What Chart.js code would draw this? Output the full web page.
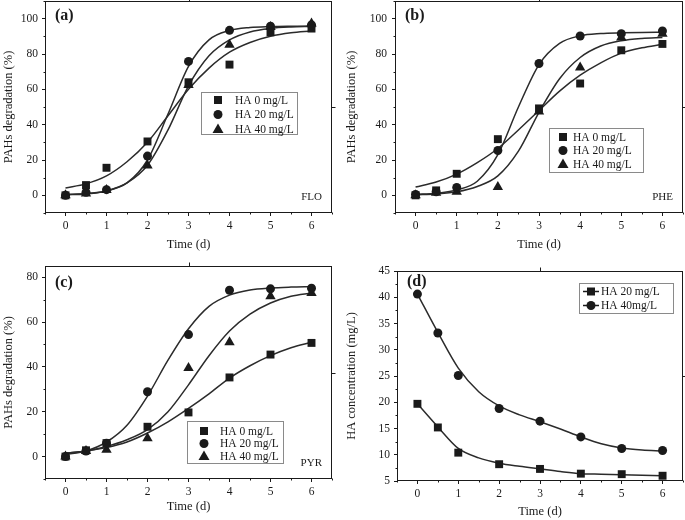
<!DOCTYPE html>
<html>
<head>
<meta charset="utf-8">
<script src="https://cdn.jsdelivr.net/npm/chart.js"></script>
<style>
  body { margin: 0; background: #fff; width: 685px; height: 520px; position: relative; overflow: hidden; }
  canvas { position: absolute; }
</style>
</head>
<body>
<canvas id="chartA" width="342" height="258" style="left:0;top:0"></canvas>
<canvas id="chartB" width="342" height="258" style="left:343px;top:0"></canvas>
<canvas id="chartC" width="342" height="262" style="left:0;top:258px"></canvas>
<canvas id="chartD" width="342" height="262" style="left:343px;top:258px"></canvas>
<script>
// sampling days
const timeDays = [0, 0.5, 1, 2, 3, 4, 5, 6];
const fitTime = [0, 0.5, 1, 1.5, 2, 2.5, 3, 3.5, 4, 4.5, 5, 5.5, 6];

// (a) FLO
const floHA0 = [0, 5.8, 15.6, 30.5, 64.0, 74.0, 92.3, 94.4];
const floHA20 = [0, 1.7, 3.2, 22.2, 75.8, 93.4, 95.7, 96.4];
const floHA40 = [0, 1.0, 3.0, 16.9, 62.4, 85.3, 95.3, 97.2];
const floFit0 = [4.2, 6.5, 11, 19, 30, 45, 60, 72, 81, 86.5, 90, 92, 93];
const floFit20 = [0.5, 1, 2.5, 7, 20, 46, 73, 88, 93.3, 95, 95.5, 95.7, 95.8];
const floFit40 = [0.3, 0.8, 2.5, 7, 17, 37, 62, 79, 88, 92.5, 94.5, 95.3, 95.6];

// (b) PHE
const pheHA0 = [0, 2.8, 12.2, 31.8, 49.2, 63.3, 82.1, 85.7];
const pheHA20 = [0.5, 2.0, 4.5, 25.4, 74.6, 90.2, 91.5, 93.0];
const pheHA40 = [0, 1.5, 2.0, 4.7, 47.4, 72.4, 89.3, 91.5];
const pheFit0 = [4.7, 7.5, 12, 18.5, 26.5, 37, 48, 59, 68, 75, 80.5, 83.5, 85.5];
const pheFit20 = [0.5, 1.2, 3, 8, 23, 50, 74, 86, 90.3, 91.6, 92, 92.2, 92.3];
const pheFit40 = [0.3, 0.8, 2, 5, 11, 25, 47, 66, 78, 84.5, 87.5, 88.8, 89.3];

// (c) PYR
const pyrHA0 = [0, 2.8, 6.0, 13.3, 19.7, 35.3, 45.5, 50.7];
const pyrHA20 = [0, 2.5, 6.0, 28.9, 54.4, 74.2, 74.8, 75.1];
const pyrHA40 = [0, 2.5, 3.0, 8.2, 39.5, 51.0, 71.5, 73.0];
const pyrFit0 = [1.5, 2.5, 4, 6.5, 10.5, 15.5, 21.5, 28, 35, 40.5, 45, 48.5, 51];
const pyrFit20 = [1, 2.5, 6.5, 14, 27, 43, 57, 67, 72, 74.3, 75.2, 75.6, 75.8];
const pyrFit40 = [1.5, 2.5, 4.5, 7.5, 12, 20, 32, 45, 56, 63.5, 68.5, 71.5, 73];

// (d) HA concentration
const ha20Conc = [19.7, 15.2, 10.4, 8.2, 7.3, 6.4, 6.3, 6.0];
const ha40Conc = [40.6, 33.2, 25.1, 18.8, 16.4, 13.4, 11.2, 10.8];
const ha20Fit = [19.7, 15.3, 11.2, 9.4, 8.4, 7.8, 7.3, 6.8, 6.4, 6.3, 6.2, 6.1, 6.0];
const ha40Fit = [40.6, 33.3, 26.5, 22, 19.3, 17.6, 16.3, 14.9, 13.4, 12.1, 11.3, 10.9, 10.7];

// ticks
const xTicks = [0, 1, 2, 3, 4, 5, 6];
const xMinor = [-0.5, 0.5, 1.5, 2.5, 3.5, 4.5, 5.5, 6.5];
const degTicks = [0, 20, 40, 60, 80, 100];
const degMinor = [-10, 10, 30, 50, 70, 90, 110];
const pyrTicks = [0, 20, 40, 60, 80];
const pyrMinor = [-10, 10, 30, 50, 70];
const concTicks = [5, 10, 15, 20, 25, 30, 35, 40, 45];
const concMinor = [7.5, 12.5, 17.5, 22.5, 27.5, 32.5, 37.5, 42.5];

const haLabels = ['HA 0 mg/L', 'HA 20 mg/L', 'HA 40 mg/L'];
const concLabels = ['HA 20 mg/L', 'HA 40mg/L'];

const INK = '#1a1a1a';
const SERIF = "'Liberation Serif', 'DejaVu Serif', serif";

function pts(xs, ys) { return xs.map((x, i) => ({ x: x, y: ys[i] })); }

function drawMarker(ctx, style, x, y) {
  ctx.beginPath();
  if (style === 'rect') {
    ctx.rect(x - 4, y - 4, 8, 8);
  } else if (style === 'circle') {
    ctx.arc(x, y, 4.5, 0, Math.PI * 2);
  } else {
    ctx.moveTo(x, y - 5.5);
    ctx.lineTo(x + 5.5, y + 4);
    ctx.lineTo(x - 5.5, y + 4);
    ctx.closePath();
  }
  ctx.fill();
}

const panelDecor = {
  id: 'panelDecor',
  afterDatasetsDraw(chart, args, o) {
    const { ctx, chartArea: a, scales } = chart;
    ctx.save();
    ctx.strokeStyle = INK;
    ctx.fillStyle = INK;
    ctx.lineWidth = 1;
    const L = Math.round(a.left) + 0.5, R = Math.round(a.right) - 0.5;
    const T = Math.round(a.top) + 0.5, B = Math.round(a.bottom) - 0.5;
    ctx.strokeRect(L, T, R - L, B - T);
    const line = (x1, y1, x2, y2) => { ctx.beginPath(); ctx.moveTo(x1, y1); ctx.lineTo(x2, y2); ctx.stroke(); };
    o.minorX.forEach(v => { const p = Math.round(scales.x.getPixelForValue(v)) + 0.5; line(p, B, p, B + 2); });
    o.minorY.forEach(v => { const p = Math.round(scales.y.getPixelForValue(v)) + 0.5; line(L, p, L - 2, p); });
    const mx = Math.round((L + R) / 2) + 0.5, my = Math.round((T + B) / 2) + 0.5;
    line(mx, T, mx, T - 4);
    line(R, my, R + 4, my);

    ctx.font = 'bold 16px ' + SERIF;
    ctx.textBaseline = 'middle';
    ctx.textAlign = 'left';
    ctx.fillText(o.panel, a.left + 10, a.top + o.panelDy);

    if (o.tag) {
      ctx.font = '11px ' + SERIF;
      ctx.textAlign = 'right';
      ctx.fillText(o.tag, a.right - 10, a.bottom - 16);
    }

    const lg = o.legend;
    ctx.strokeStyle = '#8a8a8a';
    ctx.strokeRect(a.left + lg.x + 0.5, a.top + lg.y + 0.5, lg.w, lg.h);
    ctx.font = '11.5px ' + SERIF;
    ctx.textAlign = 'left';
    ctx.strokeStyle = INK;
    ctx.lineWidth = 1.5;
    lg.labels.forEach((txt, i) => {
      const y = a.top + lg.y + lg.rowTop + i * lg.rowGap;
      const mxp = a.left + lg.x + lg.markX;
      if (lg.withLine) line(mxp - 8, y, mxp + 8, y);
      drawMarker(ctx, lg.styles[i], mxp, y);
      ctx.fillText(txt, a.left + lg.x + lg.textX, y + 0.5);
    });
    ctx.restore();
  }
};

function fitSet(ys) {
  return {
    data: pts(fitTime, ys), showLine: true, pointRadius: 0,
    borderColor: '#2b2b2b', borderWidth: 1.5, cubicInterpolationMode: 'monotone', order: 2
  };
}
function markSet(ys, style) {
  return {
    data: pts(timeDays, ys), showLine: false, pointStyle: style,
    pointRadius: style === 'rect' ? 5.6 : (style === 'circle' ? 4.5 : 6),
    backgroundColor: INK, borderColor: INK, borderWidth: 0, order: 1
  };
}

// keep the plot area exactly where the layout numbers put it
function noPad(s) {
  s.paddingTop = 0; s.paddingBottom = 0; s.paddingLeft = 0; s.paddingRight = 0;
  s.getPadding = () => ({ left: 0, top: 0, right: 0, bottom: 0 });
}

function makePanel(id, p) {
  new Chart(document.getElementById(id), {
    type: 'scatter',
    data: { datasets: p.datasets },
    options: {
      responsive: false,
      animation: false,
      devicePixelRatio: 1,
      layout: { autoPadding: false, padding: { left: 0, right: p.padR, top: p.padT, bottom: 0 } },
      plugins: {
        legend: { display: false },
        tooltip: { enabled: false },
        panelDecor: p.decor
      },
      scales: {
        x: {
          type: 'linear', min: -0.5, max: 6.5,
          afterBuildTicks: s => { s.ticks = xTicks.map(v => ({ value: v })); },
          afterFit: s => { s.height = p.xH; noPad(s); },
          grid: { drawOnChartArea: false, drawTicks: true, tickLength: 3, color: INK },
          border: { display: false },
          ticks: { color: INK, padding: 3, font: { family: SERIF, size: 11.5 }, maxRotation: 0 },
          title: { display: true, text: 'Time (d)', color: INK, font: { family: SERIF, size: 12.5 }, padding: { top: 0, bottom: p.xTitlePad } }
        },
        y: {
          type: 'linear', min: p.yMin, max: p.yMax,
          afterBuildTicks: s => { s.ticks = p.yTicks.map(v => ({ value: v })); },
          afterFit: s => { s.width = p.yW; noPad(s); },
          grid: { drawOnChartArea: false, drawTicks: true, tickLength: 3, color: INK },
          border: { display: false },
          ticks: { color: INK, padding: p.yPad, font: { family: SERIF, size: 11.5 } },
          title: { display: true, text: p.yTitle, color: INK, font: { family: SERIF, size: 12.5 }, padding: { top: 1, bottom: 0 } }
        }
      }
    },
    plugins: [panelDecor]
  });
}

const shapes = ['rect', 'circle', 'triangle'];

makePanel('chartA', {
  padR: 10, padT: 1, xH: 45, yW: 45, yPad: 4, xTitlePad: 6,
  yMin: -10, yMax: 110, yTicks: degTicks, yTitle: 'PAHs degradation (%)',
  datasets: [markSet(floHA0, 'rect'), markSet(floHA20, 'circle'), markSet(floHA40, 'triangle'),
    fitSet(floFit0), fitSet(floFit20), fitSet(floFit40)],
  decor: {
    panel: '(a)', panelDy: 15, tag: 'FLO', minorX: xMinor, minorY: degMinor,
    legend: { x: 156, y: 91, w: 96, h: 42, rowTop: 8, rowGap: 14.5, markX: 17, textX: 34, labels: haLabels, styles: shapes }
  }
});

makePanel('chartB', {
  padR: 2, padT: 1, xH: 45, yW: 52, yPad: 5, xTitlePad: 6,
  yMin: -10, yMax: 110, yTicks: degTicks, yTitle: 'PAHs degradation (%)',
  datasets: [markSet(pheHA0, 'rect'), markSet(pheHA20, 'circle'), markSet(pheHA40, 'triangle'),
    fitSet(pheFit0), fitSet(pheFit20), fitSet(pheFit40)],
  decor: {
    panel: '(b)', panelDy: 15, tag: 'PHE', minorX: xMinor, minorY: degMinor,
    legend: { x: 154, y: 127, w: 94, h: 44, rowTop: 9, rowGap: 13.5, markX: 14, textX: 24, labels: haLabels, styles: shapes }
  }
});

makePanel('chartC', {
  padR: 10, padT: 8, xH: 41, yW: 45, yPad: 4, xTitlePad: 6,
  yMin: -10, yMax: 85, yTicks: pyrTicks, yTitle: 'PAHs degradation (%)',
  datasets: [markSet(pyrHA0, 'rect'), markSet(pyrHA20, 'circle'), markSet(pyrHA40, 'triangle'),
    fitSet(pyrFit0), fitSet(pyrFit20), fitSet(pyrFit40)],
  decor: {
    panel: '(c)', panelDy: 17, tag: 'PYR', minorX: xMinor, minorY: pyrMinor,
    legend: { x: 142, y: 155, w: 96, h: 42, rowTop: 10, rowGap: 12.5, markX: 17, textX: 33, labels: haLabels, styles: shapes }
  }
});

makePanel('chartD', {
  padR: 2, padT: 13, xH: 39, yW: 54, yPad: 4, xTitlePad: 1,
  yMin: 5, yMax: 45, yTicks: concTicks, yTitle: 'HA concentration (mg/L)',
  datasets: [markSet(ha20Conc, 'rect'), markSet(ha40Conc, 'circle'), fitSet(ha20Fit), fitSet(ha40Fit)],
  decor: {
    panel: '(d)', panelDy: 11, tag: '', minorX: xMinor, minorY: concMinor,
    legend: { x: 182, y: 12, w: 94, h: 30, rowTop: 8.5, rowGap: 14, markX: 12, textX: 22, withLine: true, labels: concLabels, styles: ['rect', 'circle'] }
  }
});
</script>
</body>
</html>
